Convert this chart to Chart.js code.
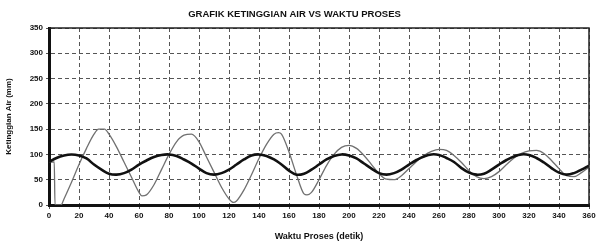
<!DOCTYPE html>
<html>
<head>
<meta charset="utf-8">
<script src="https://cdn.jsdelivr.net/npm/chart.js@4.4.1/dist/chart.umd.min.js"></script>
<style>
  html, body { margin: 0; padding: 0; background: #fff; }
  #wrap { width: 600px; height: 244px; }
</style>
</head>
<body>
<div id="wrap"><canvas id="grafik"></canvas></div>
<script>
  // ===============Data ==================//
  const waktuSetpoint = [0, 5, 10, 15, 20, 25, 30, 35, 40, 45, 50, 55, 60, 65, 70, 75, 80, 85, 90, 95, 100, 105, 110, 115, 120, 125, 130, 135, 140, 145, 150, 155, 160, 165, 170, 175, 180, 185, 190, 195, 200, 205, 210, 215, 220, 225, 230, 235, 240, 245, 250, 255, 260, 265, 270, 275, 280, 285, 290, 295, 300, 305, 310, 315, 320, 325, 330, 335, 340, 345, 350, 355, 360];
  const setpoint = [85, 93, 98, 100, 98, 92, 80, 70, 62, 60, 63, 70, 80, 88, 95, 99, 100, 97, 90, 82, 72, 63, 60, 63, 70, 80, 90, 98, 100, 97, 90, 80, 68, 60, 62, 70, 80, 90, 97, 100, 98, 92, 82, 72, 63, 60, 63, 70, 80, 89, 96, 100, 99, 93, 85, 73, 64, 60, 62, 70, 80, 89, 96, 100, 99, 93, 84, 73, 64, 60, 63, 70, 78];

  const waktuAktual = [0, 3.5, 4, 8, 10, 15, 20, 25, 30, 33, 37, 40, 45, 50, 55, 60, 62, 65, 70, 75, 80, 85, 90, 95, 100, 105, 110, 115, 120, 123, 125, 130, 135, 140, 145, 150, 153, 155, 160, 165, 170, 172, 175, 180, 185, 190, 195, 200, 205, 210, 215, 220, 225, 230, 235, 240, 245, 250, 255, 260, 265, 270, 275, 280, 285, 290, 295, 300, 305, 310, 315, 320, 325, 330, 335, 340, 345, 350, 355, 360];
  const ketinggianAktual = [85, 85, 0, 0, 12, 45, 80, 112, 140, 150, 150, 140, 115, 85, 55, 25, 18, 20, 40, 70, 100, 125, 138, 140, 125, 95, 65, 35, 12, 5, 8, 30, 60, 92, 120, 140, 143, 140, 105, 60, 22, 20, 25, 50, 78, 100, 114, 118, 112, 98, 80, 62, 51, 50, 58, 72, 86, 98, 106, 110, 108, 98, 84, 68, 56, 52, 56, 66, 80, 93, 102, 107, 108, 102, 88, 72, 58, 56, 64, 75];

  const xTicks = [0, 20, 40, 60, 80, 100, 120, 140, 160, 180, 200, 220, 240, 260, 280, 300, 320, 340, 360];
  const yTicks = [0, 50, 100, 150, 200, 250, 300, 350];

  const toPoints = (xs, ys) => xs.map((x, i) => ({ x: x, y: ys[i] }));

  // outer frame (top + right sides)
  const frame = {
    id: "frame",
    afterDatasetsDraw(chart) {
      const a = chart.chartArea;
      const ctx = chart.ctx;
      ctx.save();
      ctx.strokeStyle = "#222";
      ctx.lineWidth = 1.5;
      ctx.beginPath();
      ctx.moveTo(a.left, a.top);
      ctx.lineTo(a.right, a.top);
      ctx.lineTo(a.right, a.bottom);
      ctx.stroke();
      ctx.restore();
    },
  };

  const font = { family: "'Liberation Sans Narrow', 'Liberation Sans', Arial", size: 8, weight: "bold" };

  const grafik = document.getElementById("grafik");
  new Chart(grafik, {
    type: "line",
    plugins: [frame],
    data: {
      datasets: [
        {
          label: "Setpoint",
          data: toPoints(waktuSetpoint, setpoint),
          borderColor: "#111",
          borderWidth: 2.6,
          pointRadius: 0,
          fill: false,
          tension: 0.4,
          order: 0,
        },
        {
          label: "Ketinggian Air",
          data: toPoints(waktuAktual, ketinggianAktual),
          borderColor: "#707070",
          borderWidth: 1.3,
          pointRadius: 0,
          fill: false,
          cubicInterpolationMode: "monotone",
          order: 1,
        },
      ],
    },
    options: {
      animation: false,
      responsive: true,
      maintainAspectRatio: false,
      layout: {
        padding: { left: 0, right: 11, top: 0, bottom: 0 },
      },
      scales: {
        x: {
          type: "linear",
          min: 0,
          max: 360,
          afterBuildTicks: (scale) => {
            scale.ticks = xTicks.map((v) => ({ value: v }));
          },
          afterFit: (scale) => {
            scale.height = 39;
          },
          ticks: {
            color: "#111",
            font: font,
            maxRotation: 0,
            autoSkip: false,
            padding: 2,
          },
          grid: {
            color: "#555",
            lineWidth: 1,
            tickLength: 4,
            drawTicks: true,
          },
          border: {
            display: true,
            color: "#111",
            width: 3,
            dash: [4, 3],
          },
          title: {
            display: true,
            text: "Waktu Proses (detik)",
            color: "#111",
            font: { family: font.family, size: 9, weight: "bold" },
            padding: { top: 0, bottom: 2 },
          },
        },
        y: {
          type: "linear",
          min: 0,
          max: 350,
          afterBuildTicks: (scale) => {
            scale.ticks = yTicks.map((v) => ({ value: v }));
          },
          afterFit: (scale) => {
            scale.width = 49;
          },
          ticks: {
            color: "#111",
            font: font,
            padding: 3,
          },
          grid: {
            color: "#555",
            lineWidth: 1,
            tickLength: 3,
          },
          border: {
            display: true,
            color: "#111",
            width: 3,
            dash: [4, 3],
          },
          title: {
            display: true,
            text: "Ketinggian Air (mm)",
            color: "#111",
            font: { family: font.family, size: 8, weight: "bold" },
            padding: { top: 4, bottom: 0 },
          },
        },
      },
      plugins: {
        legend: {
          display: false,
        },
        tooltip: {
          enabled: false,
        },
        title: {
          display: true,
          text: "GRAFIK KETINGGIAN AIR VS WAKTU PROSES",
          color: "#111",
          font: { family: font.family, size: 9.5, weight: "bold", lineHeight: 1.2 },
          padding: { top: 9, bottom: 7.6 },
        },
      },
    },
  });
</script>
</body>
</html>
